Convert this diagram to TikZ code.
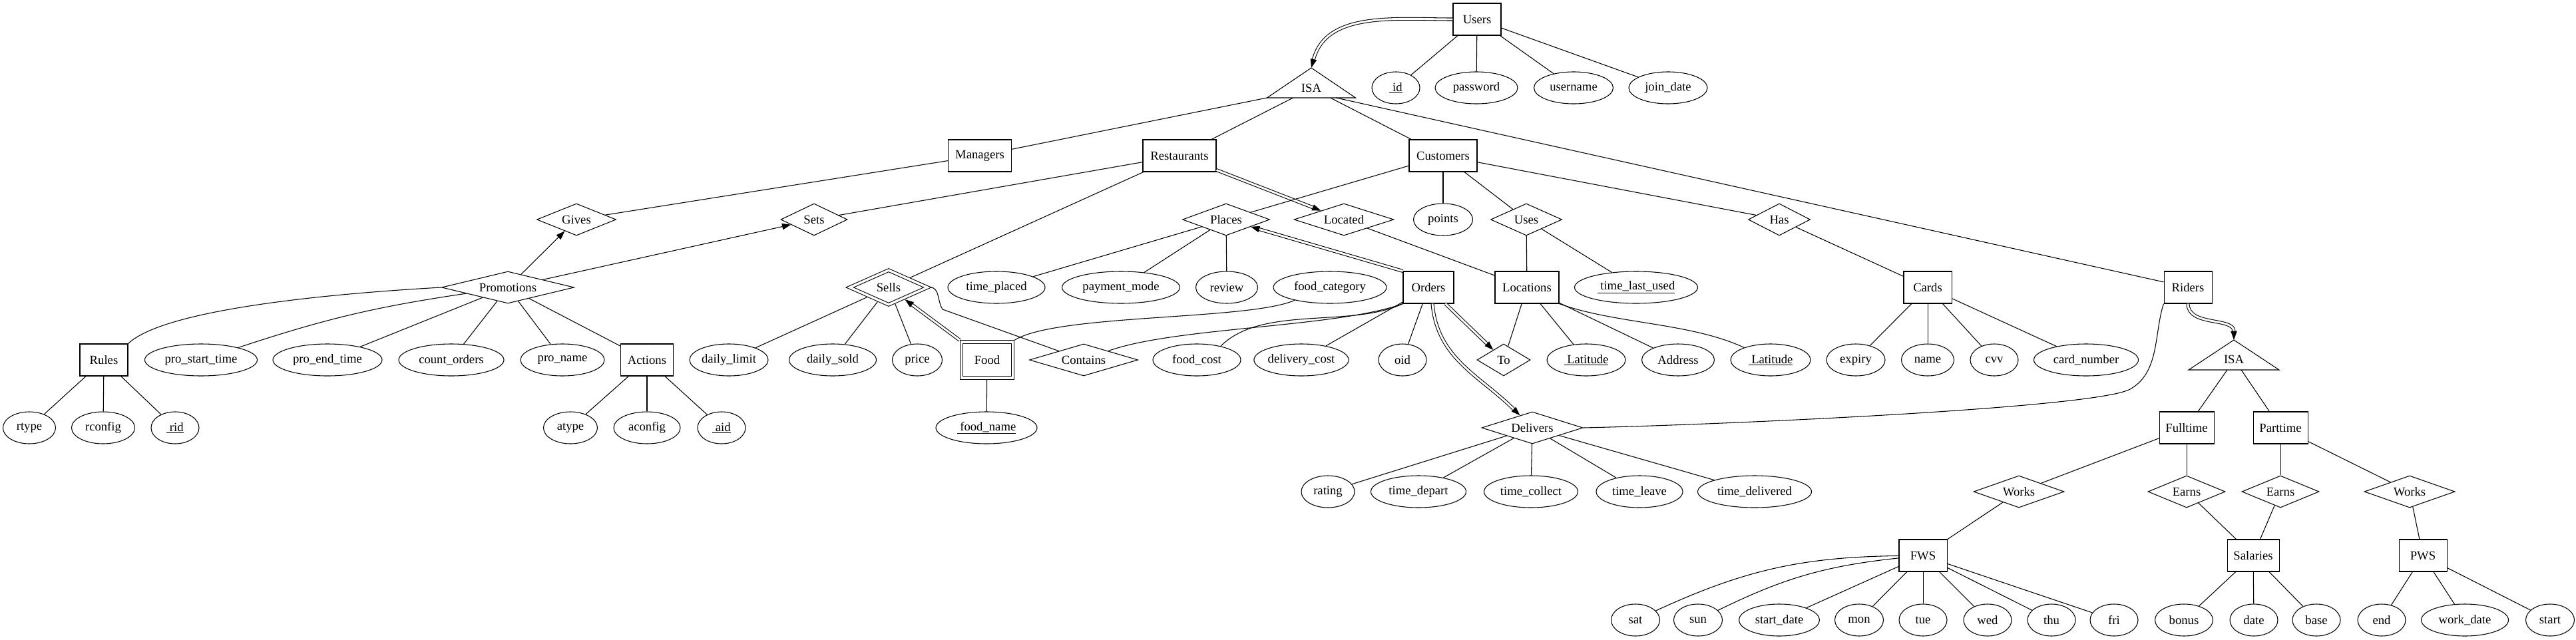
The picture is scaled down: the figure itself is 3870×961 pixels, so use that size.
\documentclass[tikz,border=0pt]{standalone}
\usepackage{fontspec}
\setmainfont{Liberation Serif}
\usetikzlibrary{shapes.geometric,arrows.meta,calc}
\begin{document}
\begin{tikzpicture}[x=0.75pt,y=0.75pt,
  font=\fontsize{14pt}{16pt}\selectfont,
  line width=0.8pt,
  ent/.style={draw,rectangle,inner sep=0pt,minimum height=36pt,minimum width=#1*0.75pt},
  wkent/.style={ent=#1,double,double distance=2.6pt,outer sep=2.1pt,minimum height=40.5pt},
  att/.style={draw,ellipse,inner sep=0pt,minimum height=36pt,minimum width=#1*0.75pt},
  rel/.style 2 args={draw,diamond,inner sep=0pt,minimum height=36pt,minimum width=#1*0.75pt,label={center:#2}},
  wkrel/.style 2 args={rel={#1}{#2},double,double distance=2.6pt,outer sep=2.1pt,minimum height=40.5pt},
  isa/.style 2 args={rectangle,inner sep=0pt,outer sep=0pt,minimum width=#1*0.75pt,minimum height=33.75pt,label={[yshift=#2]center:ISA}},
  arr/.style={-{Triangle[length=10pt,width=7pt]}},
  dlink/.style={double,double distance=2.2pt,-{Triangle[length=10pt,width=7pt]}},
]
\useasboundingbox (0,0) rectangle (3870,-961);
% ---------- nodes ----------
\node[ent=72] (users) at (2219,-29) {Users};
\node[isa={133}{-5.6pt}] (isa1) at (1970,-124.5) {};
\node[att=72] (id) at (2097,-132) {\underline{\ id}};
\node[att=124] (password) at (2218,-132) {password};
\node[att=119] (username) at (2364,-132) {username};
\node[att=118] (joindate) at (2506,-132) {join\_date};
\node[ent=95] (managers) at (1472,-234) {Managers};
\node[ent=110] (restaurants) at (1772,-234) {Restaurants};
\node[ent=102] (customers) at (2168,-234) {Customers};
\node[rel={119}{Gives}] (gives) at (866,-330) {};
\node[rel={100}{Sets}] (sets) at (1223,-330) {};
\node[rel={131}{Places}] (places) at (1842,-330) {};
\node[rel={150}{Located}] (located) at (2019,-330) {};
\node[att=89] (points) at (2168,-330) {points};
\node[rel={107}{Uses}] (uses) at (2293,-330) {};
\node[rel={93}{Has}] (has) at (2673,-330) {};
\node[rel={199}{Promotions}] (promotions) at (763,-432) {};
\node[wkrel={119}{Sells}] (sells) at (1335,-432) {};
\node[att=146] (timeplaced) at (1497,-432) {time\_placed};
\node[att=177] (paymentmode) at (1684,-432) {payment\_mode};
\node[att=93] (review) at (1843,-432) {review};
\node[att=170] (foodcategory) at (1998,-432) {food\_category};
\node[ent=76] (orders) at (2146,-432) {Orders};
\node[ent=96] (locations) at (2294,-432) {Locations};
\node[att=185] (timelastused) at (2458,-432) {\underline{\ time\_last\_used}};
\node[ent=72] (cards) at (2896,-432) {Cards};
\node[ent=72] (riders) at (3287,-432) {Riders};
\node[ent=72] (rules) at (156,-541) {Rules};
\node[att=169] (prostart) at (302,-541) {pro\_start\_time};
\node[att=164] (proend) at (492,-541) {pro\_end\_time};
\node[att=158] (countorders) at (678,-541) {count\_orders};
\node[att=126] (proname) at (845,-541) {pro\_name};
\node[ent=79] (actions) at (972,-541) {Actions};
\node[att=118] (dailylimit) at (1095,-541) {daily\_limit};
\node[att=131] (dailysold) at (1251,-541) {daily\_sold};
\node[att=75] (price) at (1378,-541) {price};
\node[wkent=77] (food) at (1483,-541) {Food};
\node[rel={163}{Contains}] (contains) at (1628,-541) {};
\node[att=132] (foodcost) at (1798,-541) {food\_cost};
\node[att=132] (deliverycost) at (1955,-541) {delivery\_cost};
\node[att=72] (oid) at (2107,-541) {oid};
\node[rel={80}{To}] (relto) at (2259,-541) {};
\node[att=118] (lat1) at (2383,-541) {\underline{\ Latitude}};
\node[att=109] (address) at (2521,-541) {Address};
\node[att=120] (lat2) at (2660,-541) {\underline{\ Latitude}};
\node[att=88] (expiry) at (2788,-541) {expiry};
\node[att=79] (cname) at (2896,-541) {name};
\node[att=72] (cvv) at (2996,-541) {cvv};
\node[att=157] (cardnumber) at (3134,-541) {card\_number};
\node[isa={136}{-4.9pt}] (isa2) at (3356,-533.5) {};
\node[att=79] (rtype) at (44,-643) {rtype};
\node[att=95] (rconfig) at (155,-643) {rconfig};
\node[att=72] (rid) at (263,-643) {\underline{\ rid}};
\node[att=81] (atype) at (857,-643) {atype};
\node[att=100] (aconfig) at (972,-643) {aconfig};
\node[att=72] (aid) at (1084,-643) {\underline{\ aid}};
\node[att=152] (foodname) at (1482,-643) {\underline{\ food\_name}};
\node[rel={152}{Delivers}] (delivers) at (2302,-643) {};
\node[ent=82] (fulltime) at (3285,-643) {Fulltime};
\node[ent=82] (parttime) at (3426,-643) {Parttime};
\node[att=80] (rating) at (1995,-739) {rating};
\node[att=143] (timedepart) at (2131,-739) {time\_depart};
\node[att=141] (timecollect) at (2300,-739) {time\_collect};
\node[att=130] (timeleave) at (2463,-739) {time\_leave};
\node[att=171] (timedelivered) at (2636,-739) {time\_delivered};
\node[rel={136}{Works}] (works1) at (3033,-739) {};
\node[rel={116}{Earns}] (earns1) at (3285,-739) {};
\node[rel={116}{Earns}] (earns2) at (3426,-739) {};
\node[rel={136}{Works}] (works2) at (3620,-739) {};
\node[ent=72] (fws) at (2889,-835) {FWS};
\node[ent=78] (salaries) at (3385,-835) {Salaries};
\node[ent=72] (pws) at (3640,-835) {PWS};
\node[att=73] (sat) at (2457,-932) {sat};
\node[att=73] (sun) at (2551,-932) {sun};
\node[att=121] (startdate) at (2673,-932) {start\_date};
\node[att=73] (mon) at (2793,-932) {mon};
\node[att=72] (tue) at (2889,-932) {tue};
\node[att=72] (wed) at (2986,-932) {wed};
\node[att=72] (thu) at (3082,-932) {thu};
\node[att=72] (fri) at (3176,-932) {fri};
\node[att=87] (bonus) at (3281,-932) {bonus};
\node[att=72] (sdate) at (3386,-932) {date};
\node[att=72] (sbase) at (3480,-932) {base};
\node[att=72] (wend) at (3578,-932) {end};
\node[att=131] (workdate) at (3703,-932) {work\_date};
\node[att=73] (wstart) at (3831,-932) {start};
% ISA triangles
\draw[line join=miter] (isa1.south west) -- (isa1.north) -- (isa1.south east) -- cycle;
\draw[line join=miter] (isa2.south west) -- (isa2.north) -- (isa2.south east) -- cycle;
% ---------- edges ----------
\draw[dlink] (users.west) to[out=180,in=75] (isa1.north);
\draw (users) -- (id);
\draw (users) -- (password);
\draw (users) -- (username);
\draw (users) -- (joindate);
\draw (isa1.south west) -- (managers);
\draw ([xshift=-20.6pt]isa1.south) -- (restaurants);
\draw ([xshift=21.4pt]isa1.south) -- (customers);
\draw ([xshift=28pt]isa1.south) -- (riders);
\draw (managers) -- (gives);
\draw[arr] (promotions) -- (gives);
\draw[arr] (promotions) -- (sets);
\draw (restaurants) -- (sets);
\draw (restaurants) -- (sells);
\draw[dlink] (restaurants) -- (located);
\draw (customers) -- (places);
\draw (customers) -- (points);
\draw (customers) -- (uses);
\draw (customers) -- (has);
\draw (places) -- (timeplaced);
\draw (places) -- (paymentmode);
\draw (places) -- (review);
\draw[dlink] (orders.north west) -- (places);
\draw (located) -- (locations);
\draw (uses) -- (locations);
\draw (uses) -- (timelastused);
\draw (has) -- (cards);
\draw (sells) -- (dailylimit);
\draw (sells) -- (dailysold);
\draw (sells) -- (price);
\draw[dlink] (food.north west) -- (sells);
\coordinate (sc) at (1416,-465);
\draw (sells.east) .. controls (1412,-432) and (1408,-453) .. (sc) -- (contains);
\draw (foodcategory.200) to[out=204,in=32,looseness=0.45] (food.north east);
\draw (food) -- (foodname);
\draw (orders.south west) to[out=200,in=20,looseness=0.6] (contains);
\draw (orders.south west) to[out=205,in=45,looseness=0.8] (foodcost.30);
\draw (orders) -- (deliverycost);
\draw (orders) -- (oid);
\draw[dlink] (orders) -- (relto);
\draw[dlink] ([xshift=4.5pt]orders.south) to[out=-85,in=135] (delivers);
\draw (locations) -- (relto);
\draw (locations) -- (lat1);
\draw (locations) -- (address);
\draw (locations.south east) to[out=-20,in=155,looseness=0.8] (lat2);
\draw (cards) -- (expiry);
\draw (cards) -- (cname);
\draw (cards) -- (cvv);
\draw (cards) -- (cardnumber);
\draw[dlink] (riders.south) to[out=-90,in=90] (isa2.north);
\coordinate (rd) at (3200,-585);
\draw (riders.south west) .. controls (3236,-500) and (3245,-560) .. (rd) .. controls (3150,-613) and (2600,-638) .. (delivers.east);
\draw ([xshift=-7.5pt]isa2.south) -- (fulltime);
\draw ([xshift=8.3pt]isa2.south) -- (parttime);
\draw (fulltime) -- (works1);
\draw (fulltime) -- (earns1);
\draw (parttime) -- (earns2);
\draw (parttime) -- (works2);
\draw (works1) -- (fws);
\draw (earns1) -- (salaries);
\draw (earns2) -- (salaries);
\draw (works2) -- (pws);
\draw (fws) to[bend right=12] (sat);
\draw (fws) to[bend right=10] (sun);
\draw (fws) -- (startdate);
\draw (fws) -- (mon);
\draw (fws) -- (tue);
\draw (fws) -- (wed);
\draw (fws) -- (thu);
\draw (fws) -- (fri);
\draw (salaries) -- (bonus);
\draw (salaries) -- (sdate);
\draw (salaries) -- (sbase);
\draw (pws) -- (wend);
\draw (pws) -- (workdate);
\draw (pws) -- (wstart);
\draw (delivers) -- (rating);
\draw (delivers) -- (timedepart);
\draw (delivers) -- (timecollect);
\draw (delivers) -- (timeleave);
\draw (delivers) -- (timedelivered);
\draw (promotions.west) .. controls (520,-440) and (250,-462) .. (rules.north east);
\draw (promotions) to[bend right=5] (prostart);
\draw (promotions) -- (proend);
\draw (promotions) -- (countorders);
\draw (promotions) -- (proname);
\draw (promotions) -- (actions);
\draw (rules) -- (rtype);
\draw (rules) -- (rconfig);
\draw (rules) -- (rid);
\draw (actions) -- (atype);
\draw (actions) -- (aconfig);
\draw (actions) -- (aid);
\end{tikzpicture}
\end{document}
